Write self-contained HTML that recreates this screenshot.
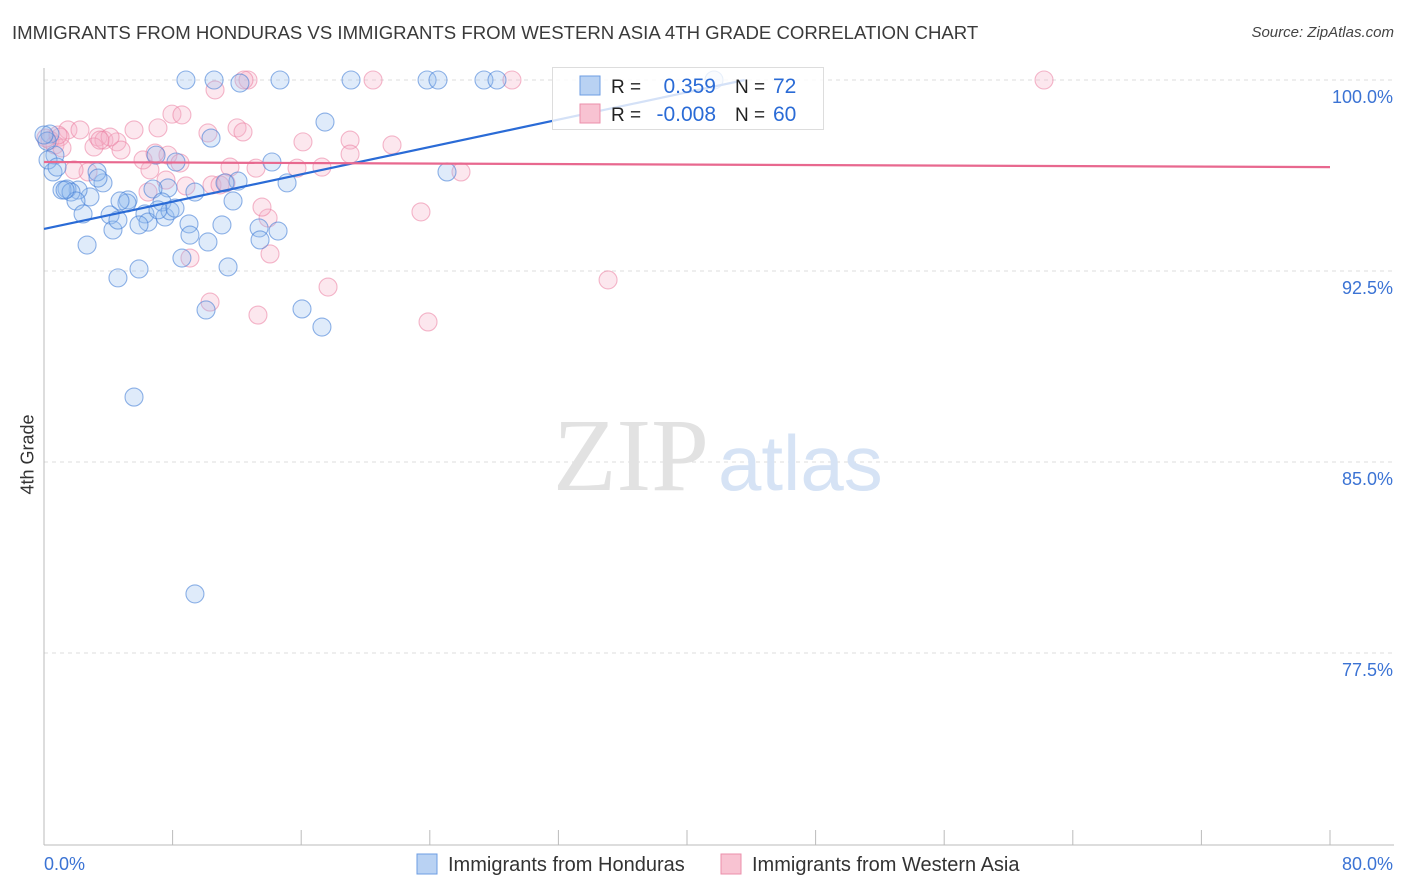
<!DOCTYPE html>
<html><head><meta charset="utf-8">
<style>
body{margin:0;background:#fff;font-family:"Liberation Sans",sans-serif;}
#wrap{position:relative;width:1406px;height:892px;overflow:hidden;}
.t{position:absolute;white-space:nowrap;}
</style></head>
<body>
<div id="wrap">
<div class="t" style="left:12px;top:22px;font-size:18.6px;color:#3a3a3a;">IMMIGRANTS FROM HONDURAS VS IMMIGRANTS FROM WESTERN ASIA 4TH GRADE CORRELATION CHART</div>
<div class="t" style="right:12px;top:24px;font-size:15px;color:#444;font-style:italic;">Source: ZipAtlas.com</div>
<div class="t" style="left:-12px;top:444px;font-size:18px;color:#333;transform:rotate(-90deg);">4th Grade</div>
<svg id="plot" width="1406" height="892" style="position:absolute;left:0;top:0"></svg>
</div>
<script>
const blueX=[],blueY=[],pinkX=[],pinkY=[];
const bluePx=[[186,80],[214,80],[240,83],[280,80],[351,80],[427,80],[438,80],[484,80],[497,80],[325,122],[211,138],[272,162],[447,172],[287,183],[238,181],[225,183],[233,201],[195,192],[168,188],[153,189],[128,200],[103,183],[97,172],[90,197],[78,190],[67,189],[62,190],[71,192],[55,155],[53,172],[48,160],[50,134],[76,201],[83,214],[110,215],[113,230],[118,220],[127,203],[145,214],[148,222],[139,225],[165,217],[162,202],[170,211],[189,224],[190,235],[208,242],[222,225],[259,228],[260,240],[278,231],[87,245],[118,278],[139,269],[182,258],[228,267],[206,310],[302,309],[322,327],[134,397],[195,594],[156,155],[176,162],[57,167],[47,141],[44,135],[714,80],[98,178],[65,190],[120,201],[158,210],[175,208]];
const pinkPx=[[373,80],[512,80],[1044,80],[248,80],[215,90],[172,114],[182,115],[244,80],[134,130],[158,128],[208,133],[237,128],[243,132],[303,142],[350,140],[392,145],[350,154],[297,168],[322,167],[461,172],[256,168],[230,167],[212,185],[186,186],[150,170],[88,172],[74,170],[68,130],[80,130],[98,137],[104,140],[94,147],[117,142],[121,150],[110,137],[60,137],[50,140],[55,145],[62,148],[168,155],[166,180],[143,160],[155,153],[180,163],[220,185],[421,212],[268,218],[148,192],[270,254],[190,258],[210,302],[258,315],[328,287],[608,280],[428,322],[262,207],[226,183],[46,138],[58,135],[100,140]];
bluePx.forEach(p=>{blueX.push(+((p[0]-44)*0.06221).toFixed(2));blueY.push(+(100-(p[1]-80)*0.039267).toFixed(2));});
pinkPx.forEach(p=>{pinkX.push(+((p[0]-44)*0.06221).toFixed(2));pinkY.push(+(100-(p[1]-80)*0.039267).toFixed(2));});
const blueTrend=[94.15,0.1342];
const pinkTrend=[96.78,-0.0025];
const yTicks=[100,92.5,85,77.5];
const yTickLabels=["100.0%","92.5%","85.0%","77.5%"];
const xTicks=[0,8,16,24,32,40,48,56,64,72,80];

const X=v=>44+v*1286/80;
const Y=v=>80+(100-v)*25.467;
const svg=document.getElementById('plot');
const NS='http://www.w3.org/2000/svg';
function mk(tag,attrs,parent){const e=document.createElementNS(NS,tag);for(const k in attrs)e.setAttribute(k,attrs[k]);(parent||svg).appendChild(e);return e;}

yTicks.forEach((v,i)=>{
  const g=mk('line',{x1:44,x2:1394,y1:Y(v),y2:Y(v),stroke:'#ddd','stroke-dasharray':'4,4'});
  
  
  const t=mk('text',{x:1393,y:Y(v)+23,'text-anchor':'end','font-size':18,fill:'#3b73d4'});
  t.textContent=yTickLabels[i];
  
  
});
const ax=mk('line',{x1:44,x2:44,y1:68,y2:845,stroke:'#bbb'});


const bx=mk('line',{x1:44,x2:1394,y1:845,y2:845,stroke:'#bbb'});


xTicks.forEach(v=>{
  const l=mk('line',{x1:X(v),x2:X(v),y1:830,y2:845,stroke:'#bbb'});
  
  
});
const xl0=mk('text',{x:44,y:870,'font-size':18,fill:'#3b73d4'});xl0.textContent='0.0%';


const xl1=mk('text',{x:1393,y:870,'font-size':18,fill:'#3b73d4','text-anchor':'end'});xl1.textContent='80.0%';



const w1=mk('text',{x:553,y:490,'font-size':104,fill:'#e2e2e2','font-family':'Liberation Serif, serif'});w1.textContent='ZIP';


const w2=mk('text',{x:718,y:490,'font-size':78,fill:'#d6e3f5'});w2.textContent='atlas';



pinkX.forEach((x,i)=>{
  const c=mk('circle',{cx:X(x),cy:Y(pinkY[i]),r:9,fill:'rgba(246,175,198,0.3)',stroke:'rgba(235,125,160,0.55)','stroke-width':1.1});
  
  
});
blueX.forEach((x,i)=>{
  const c=mk('circle',{cx:X(x),cy:Y(blueY[i]),r:9,fill:'rgba(150,188,238,0.3)',stroke:'rgba(70,128,215,0.6)','stroke-width':1.1});
  
  
});
const bEnd=(100-blueTrend[0])/blueTrend[1];
const bl=mk('line',{x1:X(0),y1:Y(blueTrend[0]),x2:X(bEnd),y2:Y(100),stroke:'#2a6bd6','stroke-width':2.2});


const pl=mk('line',{x1:X(0),y1:Y(pinkTrend[0]),x2:X(80),y2:Y(pinkTrend[0]+80*pinkTrend[1]),stroke:'#e8688f','stroke-width':2.2});



const lg=mk('g',{});


mk('rect',{x:552.5,y:67.5,width:271,height:62,fill:'rgba(255,255,255,0.8)',stroke:'#ddd'},lg);
mk('rect',{x:580,y:76,width:20,height:19,fill:'#b9d2f3',stroke:'#6d9de3'},lg);
mk('rect',{x:580,y:104,width:20,height:19,fill:'#f8c3d2',stroke:'#eb8fab'},lg);
const rows=[['R = ','0.359','72',93],['R = ','-0.008','60',121]];
rows.forEach(r=>{
  const a=mk('text',{x:611,y:r[3],'font-size':19,fill:'#222'},lg);a.textContent=r[0];
  const b=mk('text',{x:716,y:r[3],'font-size':21,fill:'#2a6bd6','text-anchor':'end'},lg);b.textContent=r[1];
  const c=mk('text',{x:735,y:r[3],'font-size':19,fill:'#222'},lg);c.textContent='N = ';
  const d=mk('text',{x:773,y:r[3],'font-size':21,fill:'#2a6bd6'},lg);d.textContent=r[2];
});
const bl2=mk('g',{});


mk('rect',{x:417,y:854,width:20,height:20,fill:'#b9d2f3',stroke:'#6d9de3'},bl2);
const t1=mk('text',{x:448,y:871,'font-size':20,fill:'#333'},bl2);t1.textContent='Immigrants from Honduras';


mk('rect',{x:721,y:854,width:20,height:20,fill:'#f8c3d2',stroke:'#eb8fab'},bl2);
const t2=mk('text',{x:752,y:871,'font-size':20,fill:'#333'},bl2);t2.textContent='Immigrants from Western Asia';


</script>
</body></html>
